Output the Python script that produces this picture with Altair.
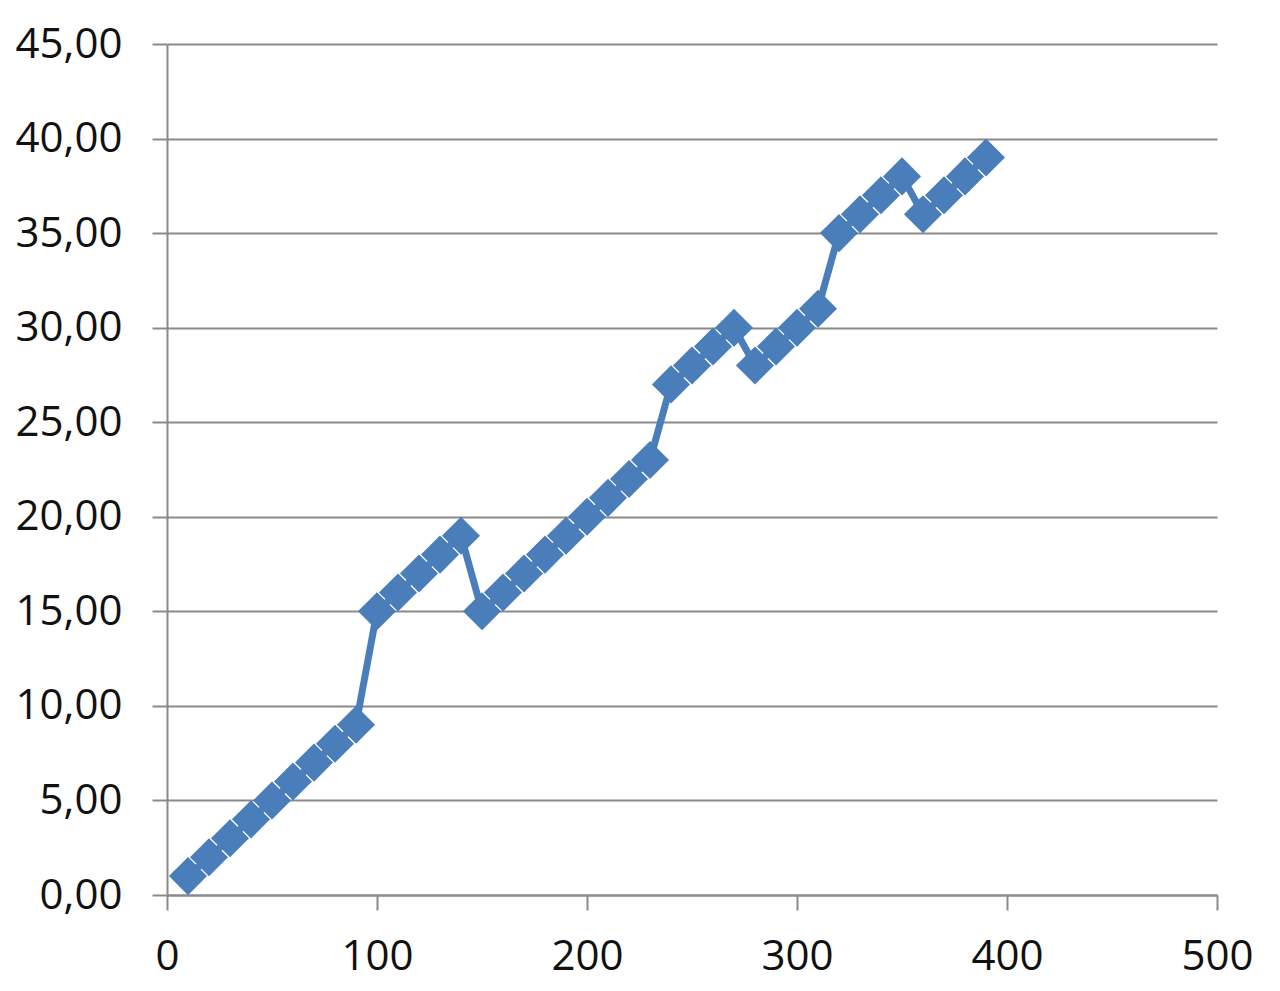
import altair as alt
import pandas as pd

x_vals = [10, 20, 30, 40, 50, 60, 70, 80, 90, 100, 110, 120, 130, 140, 150, 160, 170, 180, 190, 200,
          210, 220, 230, 240, 250, 260, 270, 280, 290, 300, 310, 320, 330, 340, 350, 360, 370, 380, 390]
y_vals = [1, 2, 3, 4, 5, 6, 7, 8, 9, 15, 16, 17, 18, 19, 15, 16, 17, 18, 19, 20,
          21, 22, 23, 27, 28, 29, 30, 28, 29, 30, 31, 35, 36, 37, 38, 36, 37, 38, 39]
x_ticks = [0, 100, 200, 300, 400, 500]
y_ticks = [0, 5, 10, 15, 20, 25, 30, 35, 40, 45]

df = pd.DataFrame({"x": x_vals, "y": y_vals})

color = "#4A7EBB"
grid = "#8A8A8A"
font = "Open Sans"

xenc = alt.X("x:Q", scale=alt.Scale(domain=[0, 500], nice=False),
             axis=alt.Axis(values=x_ticks, title=None, grid=False, tickSize=15,
                           tickColor=grid, tickWidth=2, domainColor=grid, domainWidth=2,
                           labelFontSize=42, labelFont=font, labelColor="#111111",
                           labelPadding=26, labelFlush=False))
yenc = alt.Y("y:Q", scale=alt.Scale(domain=[0, 45], nice=False),
             axis=alt.Axis(values=y_ticks, title=None, grid=True, gridColor=grid, gridWidth=2,
                           tickSize=15, tickColor=grid, tickWidth=2, domainColor=grid, domainWidth=2,
                           labelFontSize=42, labelFont=font, labelColor="#111111",
                           labelPadding=30, labelFlush=False,
                           labelExpr="replace(format(datum.value, '.2f'), '.', ',')"))

line = alt.Chart(df).mark_line(color=color, strokeWidth=7).encode(x=xenc, y=yenc)
pts = alt.Chart(df).mark_point(shape="diamond", filled=True, size=1450, color=color,
                               opacity=1, strokeWidth=0).encode(x=xenc, y=yenc)

chart = (line + pts).properties(
    width=1050, height=851,
    autosize=alt.AutoSizeParams(type="none"),
    padding={"left": 159, "top": 36, "right": 50, "bottom": 94},
).configure_view(strokeWidth=0)

chart.save("out.html", embed_options={"renderer": "svg", "actions": False})
